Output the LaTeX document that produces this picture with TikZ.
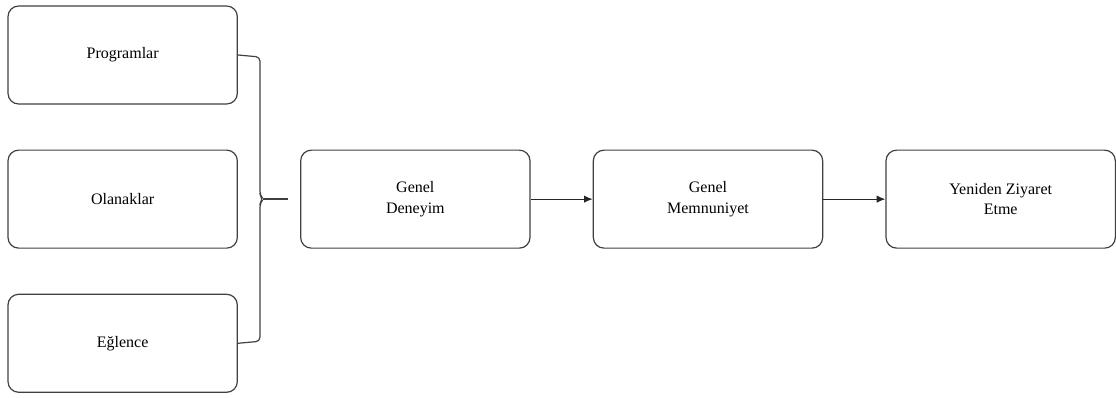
\documentclass[tikz,border=0pt]{standalone}
\usepackage{fontspec}
\setmainfont{Liberation Serif}
\usetikzlibrary{positioning,calc,arrows.meta}

\begin{document}
\begin{tikzpicture}[node distance=33.7pt and 46.6pt,
    every node/.style = {draw=black!75, line width=0.9pt, rounded corners=8pt, align=center,
      minimum width=172pt, minimum height=73.5pt, font=\fontsize{12}{15.5}\selectfont},
    link/.style = {draw=black!85, line width=0.9pt, -{Latex[length=6.5pt,width=5.5pt]}},
    brace/.style = {draw=black!75, line width=0.9pt, rounded corners=3pt}]

      \useasboundingbox (0,0) rectangle (837pt,-297.75pt);

      \node (programlar) at (92pt,-41.25pt) {Programlar};
      \node (olanaklar) [below=of programlar] {Olanaklar};
      \node (eglence) [below=of olanaklar] {Eğlence};

      \node (deneyim) [right=of olanaklar] {Genel\\Deneyim};
      \node (memnuniyet) [right=of deneyim] {Genel\\Memnuniyet};
      \node (ziyaret) [right=of memnuniyet] {Yeniden Ziyaret\\Etme};

      \coordinate (tip) at ($(olanaklar.east)+(19pt,0)$);
      \coordinate (tail) at ($(olanaklar.east)+(37.5pt,0)$);

      \draw[brace] (programlar.east) -- ($(programlar.east)+(16.5pt,-1.5pt)$)
        -- ($(olanaklar.east)+(16.5pt,3pt)$) -- (tip)
        -- ($(olanaklar.east)+(16.5pt,-3pt)$)
        -- ($(eglence.east)+(16.5pt,1.5pt)$) -- (eglence.east);
      \draw[draw=black!75, line width=1.1pt] (tip) -- (tail);

      \draw[link] (deneyim) -- (memnuniyet);
      \draw[link] (memnuniyet) -- (ziyaret);

\end{tikzpicture}
\end{document}
